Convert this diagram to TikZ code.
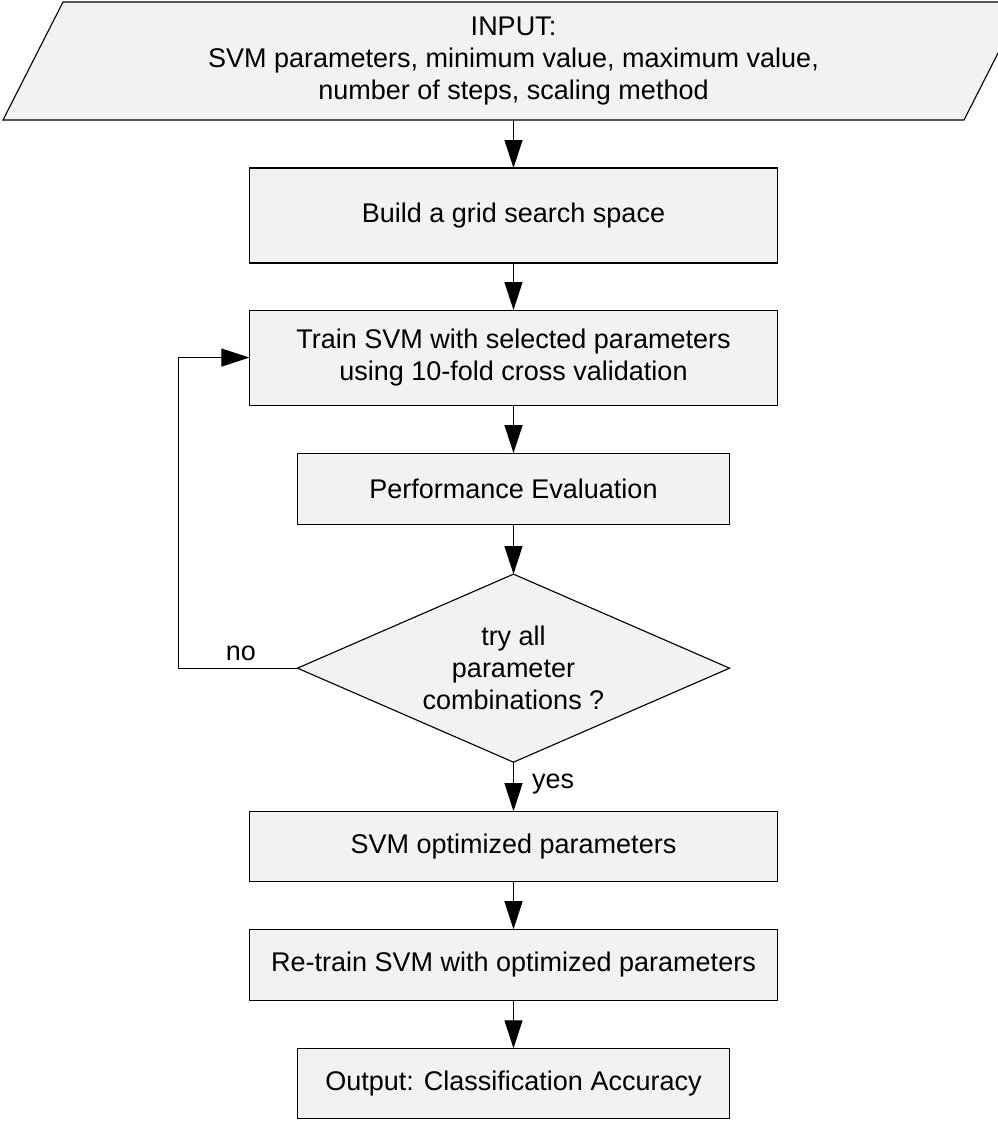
\documentclass[tikz,border=0pt]{standalone}
\usepackage{fontspec}
\setmainfont{Liberation Sans}
\usetikzlibrary{positioning,shapes.geometric,arrows.meta}
\definecolor{boxgray}{RGB}{242,242,242}

\tikzset{node distance=1.2cm,
  txt/.style={inner sep=0pt, outer sep=0pt, align=center, font=\fontsize{19.2}{22.8}\selectfont},
  box/.style={txt, draw, fill=boxgray, line width=0.8pt, minimum width=13.2cm},
  narrowbox/.style={box, minimum width=10.8cm},
  test/.style={txt, draw, fill=boxgray, line width=0.8pt, shape=diamond, aspect=2.3,
    minimum width=10.8cm, minimum height=4.7cm},
  arrow/.style={line width=0.8pt, -{Triangle[length=0.7cm, width=0.45cm]}}}

\begin{document}
\begin{tikzpicture}[x=0.025cm, y=-0.025cm]
      \useasboundingbox (0,0) rectangle (998,1125);
      \clip (0,0) rectangle (998,1125);
      % input
      \draw [fill=boxgray, line width=0.8pt] (63,2) -- (1024,2) -- (964,120) -- (3,120) -- cycle;
      \node [txt, minimum height=2.95cm] (input) at (513.5,61)
        {INPUT:\\SVM parameters, minimum value, maximum value,\\number of steps, scaling method};
      % search loop
      \node [box, minimum height=2.375cm, below=of input] (grid) {Build a grid search space};
      \node [box, minimum height=2.375cm, below=1.175cm of grid] (train)
        {Train SVM with selected parameters\\using 10-fold cross validation};
      \node [narrowbox, minimum height=1.775cm, below=of train] (perf) {Performance Evaluation};
      \node [test, below=1.25cm of perf] (try) {try all\\parameter\\combinations ?};
      % result
      \node [box, minimum height=1.75cm, below=1.225cm of try] (opt) {SVM optimized parameters};
      \node [box, minimum height=1.775cm, below=of opt] (retrain) {Re-train SVM with optimized parameters};
      \node [narrowbox, minimum height=1.75cm, below=of retrain] (output) {Output: Classification Accuracy};
      % labels
      \node [txt, anchor=base] (no) at (241,660) {no};
      \node [txt, anchor=base west] (yes) at (532,788) {yes};

      % links
      \draw [arrow] (input) -- (grid);
      \draw [arrow] (grid) -- (train);
      \draw [arrow] (train) -- (perf);
      \draw [arrow] (perf) -- (try);
      \draw [arrow] (try.west) -- ++(-119,0) |- (train.west);
      \draw [arrow] (try) -- (opt);
      \draw [arrow] (opt) -- (retrain);
      \draw [arrow] (retrain) -- (output);
    \end{tikzpicture}
\end{document}
